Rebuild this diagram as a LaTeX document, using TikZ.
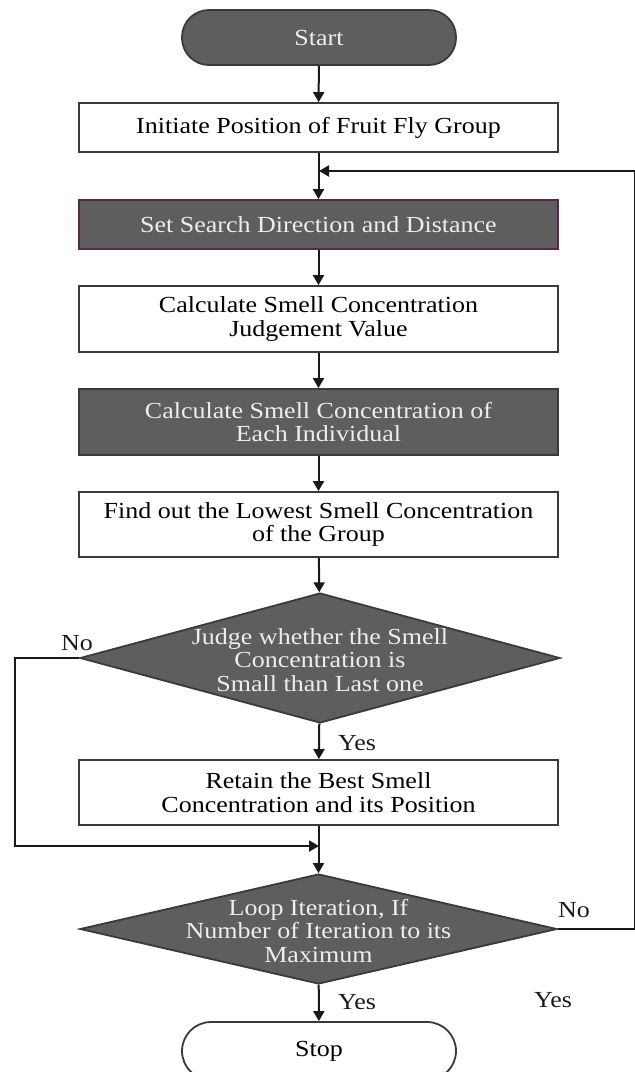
\documentclass[tikz,border=0pt]{standalone}
\usepackage{fontspec}
\setmainfont{Liberation Serif}[FakeStretch=1.13]
\usetikzlibrary{arrows.meta,shapes.geometric}
\definecolor{darkfill}{HTML}{5E5E5E}
\definecolor{edgec}{HTML}{3A3A3A}
\definecolor{purpleedge}{HTML}{5A2848}
\definecolor{lighttext}{HTML}{EDEDED}
\begin{document}
\begin{tikzpicture}[x=1pt,y=-1pt,
  txt/.style={font=\fontsize{23}{23.5}\selectfont, align=center},
  base/.style={txt, line width=1.8pt, draw=edgec, inner sep=0pt},
  whitebox/.style={base, rectangle, fill=white, minimum width=479pt},
  darkbox/.style={base, rectangle, fill=darkfill, text=lighttext, minimum width=479pt},
  decshape/.style={base, diamond, fill=darkfill},
  dectext/.style={txt, text=lighttext, inner sep=0pt},
  startst/.style={base, rectangle, rounded corners=27pt, fill=darkfill, text=lighttext, minimum width=274pt, minimum height=55pt},
  stopst/.style={base, rectangle, rounded corners=29pt, fill=white, minimum width=274pt, minimum height=58pt},
  arr/.style={line width=2pt, draw=black!90, -{Triangle[length=10pt,width=11pt]}},
  lbl/.style={txt, text=black!90}
]
\useasboundingbox (0,0) rectangle (635,1072);
\clip (0,0) rectangle (635,1072);
\fill[white] (0,0) rectangle (635,1072);

\node[startst] (start) at (319,37.5) {Start};
\node[whitebox, minimum height=49pt] (b1) at (318.5,127.5) {Initiate Position of Fruit Fly Group};
\node[darkbox, draw=purpleedge, minimum height=49pt] (b2) at (318.5,224.5) {Set Search Direction and Distance};
\node[whitebox, minimum height=66pt] (b3) at (318.5,319) {Calculate Smell Concentration\\Judgement Value};
\node[darkbox, minimum height=66pt] (b4) at (318.5,422) {Calculate Smell Concentration of\\Each Individual};
\node[whitebox, minimum height=65pt] (b5) at (318.5,524.5) {Find out the Lowest Smell Concentration\\of the Group};
\node[decshape, minimum width=480pt, minimum height=130pt] (d1) at (320,658) {};
\node[dectext] (d1t) at (320,660) {Judge whether the Smell\\Concentration is\\Small than Last one};
\node[whitebox, minimum height=65pt] (b6) at (318.5,792.5) {Retain the Best Smell\\Concentration and its Position};
\node[decshape, minimum width=477pt, minimum height=110pt] (d2) at (318.5,929) {};
\node[dectext] (d2t) at (318.5,931) {Loop Iteration, If\\Number of Iteration to its\\Maximum};
\node[stopst] (stop) at (319,1051) {Stop};

\coordinate (loopTop) at (319,171);
\coordinate (merge) at (319,846);

\draw[arr] (start) -- (b1);
\draw[arr] (b1) -- (b2);
\draw[arr] (b2) -- (b3);
\draw[arr] (b3) -- (b4);
\draw[arr] (b4) -- (b5);
\draw[arr] (b5) -- (d1);
\draw[arr] (d1) -- (b6);
\draw[arr] (b6) -- (d2);
\draw[arr] (d2) -- (stop);
\draw[arr] (d1.west) -- ++(-64,0) |- (merge);
\draw[arr] (d2.east) -- ++(77,0) |- (loopTop);

\node[lbl] (no1) at (77,643) {No};
\node[lbl] (yes1) at (357,743) {Yes};
\node[lbl] (no2) at (574,910) {No};
\node[lbl] (yes2) at (357,1002) {Yes};
\node[lbl] (yes3) at (553,1000) {Yes};
\end{tikzpicture}
\end{document}
